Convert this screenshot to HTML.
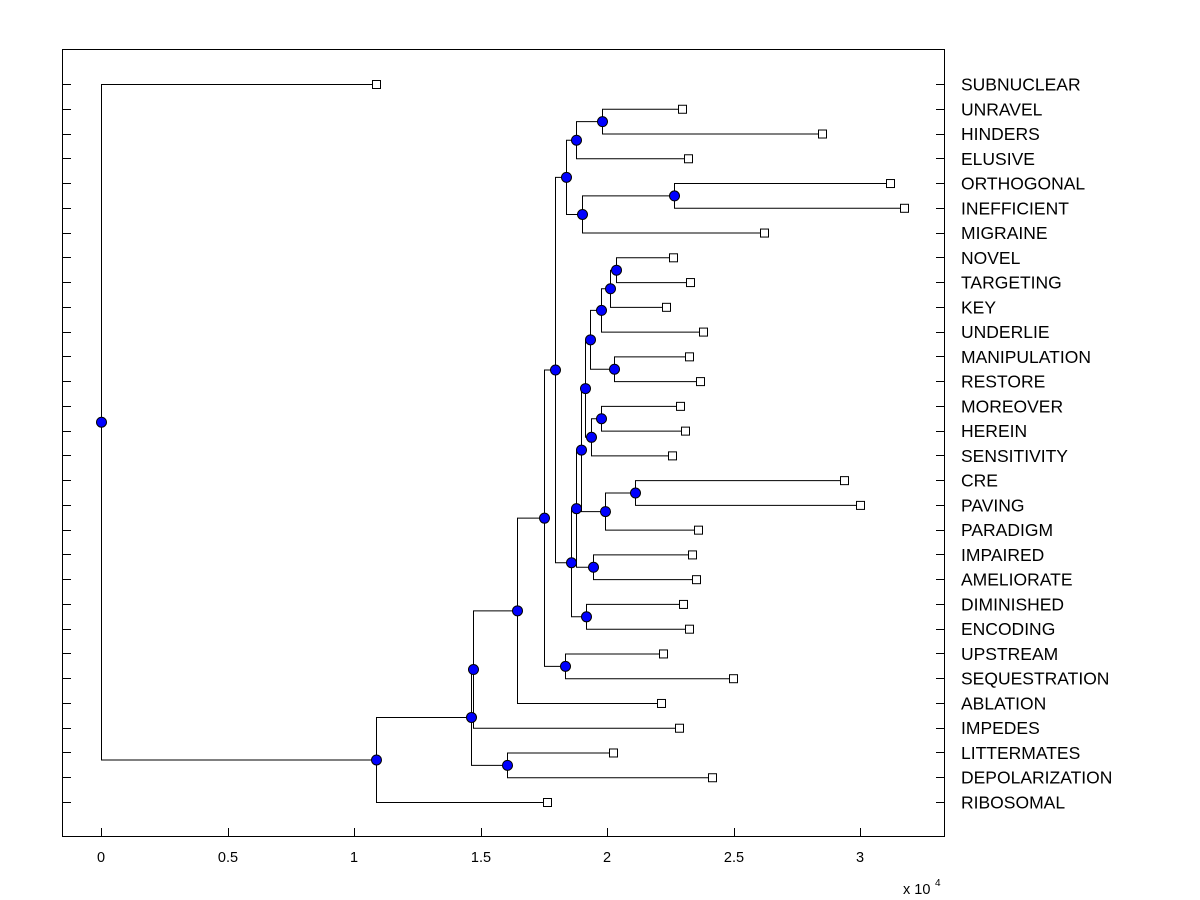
<!DOCTYPE html>
<html><head><meta charset="utf-8"><style>
html,body{margin:0;padding:0;background:#fff;}
svg{display:block;font-family:"Liberation Sans",Arial,sans-serif;}
</style></head><body>
<svg id="s" width="1200" height="900" xmlns="http://www.w3.org/2000/svg">
<rect x="0" y="0" width="1200" height="900" fill="#fff"/>
<rect x="62.5" y="49.5" width="882" height="787" fill="none" stroke="#000" stroke-width="1"/>
</svg>
<script>
const s=document.getElementById('s');const NS='http://www.w3.org/2000/svg';
function el(t,a,txt){const e=document.createElementNS(NS,t);for(const k in a)e.setAttribute(k,a[k]);if(txt!==undefined)e.textContent=txt;s.appendChild(e);return e;}
const names=["SUBNUCLEAR","UNRAVEL","HINDERS","ELUSIVE","ORTHOGONAL","INEFFICIENT","MIGRAINE","NOVEL","TARGETING","KEY","UNDERLIE","MANIPULATION","RESTORE","MOREOVER","HEREIN","SENSITIVITY","CRE","PAVING","PARADIGM","IMPAIRED","AMELIORATE","DIMINISHED","ENCODING","UPSTREAM","SEQUESTRATION","ABLATION","IMPEDES","LITTERMATES","DEPOLARIZATION","RIBOSOMAL"];
const lx=[376,682,822,688,890,904,764,673,690,666,703,689,700,680,685,672,844,860,698,692,696,683,689,663,733,661,679,613,712,547];
const N={};
names.forEach((n,i)=>{N['L'+i]={x:lx[i],y:84+i*718/29};});
const nodes=[
['A',602,'L1','L2'],['B',576,'A','L3'],['C',674,'L4','L5'],['D',582,'C','L6'],['E',566,'B','D'],
['F',616,'L7','L8'],['G',610,'F','L9'],['H',601,'G','L10'],['I',614,'L11','L12'],['J',590,'H','I'],
['K',601,'L13','L14'],['L',591,'K','L15'],['M',585,'J','L'],['O',635,'L16','L17'],['P',605,'O','L18'],
['N',581,'M','P'],['Q',593,'L19','L20'],['S',576,'N','Q'],['R',586,'L21','L22'],['T',571,'S','R'],
['U',555,'E','T'],['V',565,'L23','L24'],['W',544,'U','V'],['X',517,'W','L25'],['Y',473,'X','L26'],
['Z',507,'L27','L28'],['AA',471,'Y','Z'],['BB',376,'AA','L29'],['R0',101,'L0','BB']];
const dots=[];
nodes.forEach(([n,x,a,b])=>{const A=N[a],B=N[b];const y=(A.y+B.y)/2;N[n]={x,y};
 el('path',{d:`M${A.x} ${A.y+.5}H${x+.5}V${B.y+.5}H${B.x}`,fill:'none',stroke:'#000','stroke-width':1});
 dots.push([x,y]);});
for(let i=0;i<30;i++){const p=N['L'+i];
 el('rect',{x:p.x-3.5,y:p.y-3.5,width:8,height:8,fill:'#fff',stroke:'#000','stroke-width':1});
 const yy=Math.round(p.y)+.5;
 el('line',{x1:62,y1:yy,x2:71,y2:yy,stroke:'#000'});el('line',{x1:936,y1:yy,x2:945,y2:yy,stroke:'#000'});
 el('text',{x:961,y:p.y+6.5,'font-size':17.5},names[i]);}
dots.forEach(([x,y])=>el('circle',{cx:x+.5,cy:y+.5,r:5,fill:'#0000ff',stroke:'#000','stroke-width':1}));
[['0',101],['0.5',228],['1',354],['1.5',481],['2',607],['2.5',734],['3',860]].forEach(([t,x])=>{
 el('line',{x1:x+.5,y1:836,x2:x+.5,y2:828,stroke:'#000'});
 el('text',{x:x,y:862,'font-size':14.5,'text-anchor':'middle'},t);});
el('text',{x:903,y:894,'font-size':14.5},'x 10');el('text',{x:935,y:886,'font-size':10},'4');
</script>
</body></html>
